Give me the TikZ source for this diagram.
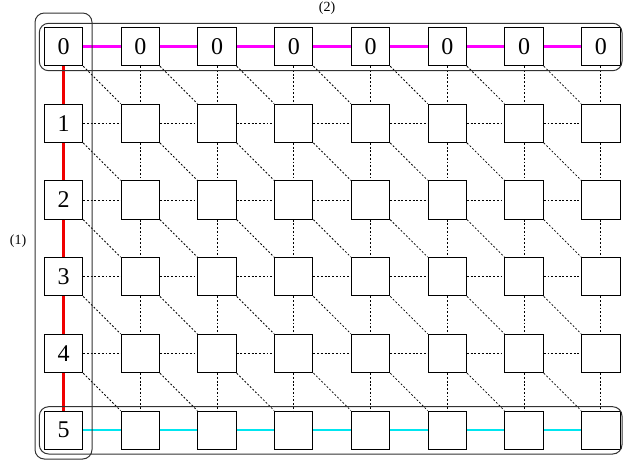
\documentclass[tikz,border=0pt]{standalone}
\usepackage{fontspec}
\setmainfont{Liberation Serif}
\usetikzlibrary{positioning, calc}
\definecolor{rowpink}{RGB}{255,0,255}
\definecolor{rowcyan}{RGB}{0,230,240}
\definecolor{colred}{RGB}{240,0,0}

\begin{document}
\begin{tikzpicture}[
  x=0.75pt, y=0.75pt,
  cell/.style={rectangle, draw=black, fill=white, line width=0.75pt, minimum size=28.8pt, inner sep=0pt, font=\fontsize{18}{20}\selectfont},
  grid/.style={black, line width=0.6pt, dash pattern=on 1.4pt off 1.4pt},
  firstrow/.style={rowpink, line width=1.6pt},
  lastrow/.style={rowcyan, line width=1.6pt},
  firstcol/.style={colred, line width=1.6pt},
  group/.style={draw=black!80, line width=0.75pt, rounded corners=7pt},
  tag/.style={font=\fontsize{10.5}{12}\selectfont}
]
\useasboundingbox (0,0) rectangle (623,-461);

% cells
\foreach \c in {0,...,7}
  \node[cell] (c-0-\c) at ({63.5+76.76*\c},-46.5) {0};
\foreach \r in {1,...,5} {
  \node[cell] (c-\r-0) at (63.5,{-46.5-76.74*\r}) {\r};
  \foreach \c in {1,...,7}
    \node[cell] (c-\r-\c) at ({63.5+76.76*\c},{-46.5-76.74*\r}) {};
}

% dotted neighbours
\foreach \r in {0,...,5} {
  \foreach \c in {0,...,7} {
    \pgfmathtruncatemacro\nr{\r+1}
    \pgfmathtruncatemacro\nc{\c+1}
    \ifnum\r>0 \ifnum\r<5 \ifnum\c<7
      \draw[grid] (c-\r-\c) -- (c-\r-\nc);
    \fi\fi\fi
    \ifnum\r<5 \ifnum\c>0
      \draw[grid] (c-\r-\c) -- (c-\nr-\c);
    \fi\fi
    \ifnum\r<5 \ifnum\c<7
      \draw[grid] (c-\r-\c.south east) -- (c-\nr-\nc.north west);
    \fi\fi
  }
}

% coloured borders
\foreach \c in {0,...,6} {
  \pgfmathtruncatemacro\nc{\c+1}
  \draw[firstrow] (c-0-\c) -- (c-0-\nc);
  \draw[lastrow] (c-5-\c) -- (c-5-\nc);
}
\foreach \r in {0,...,4} {
  \pgfmathtruncatemacro\nr{\r+1}
  \draw[firstcol] (c-\r-0) -- (c-\nr-0);
}

% groups
\draw[group] (35,-13) rectangle (92,-459);
\draw[group] (39.3,-23.3) rectangle (622,-70.7);
\draw[group] (39.3,-406.7) rectangle (622,-454);
\node[tag] (g1) at (18,-241) {(1)};
\node[tag] (g2) at (327,-8) {(2)};
\end{tikzpicture}
\end{document}
